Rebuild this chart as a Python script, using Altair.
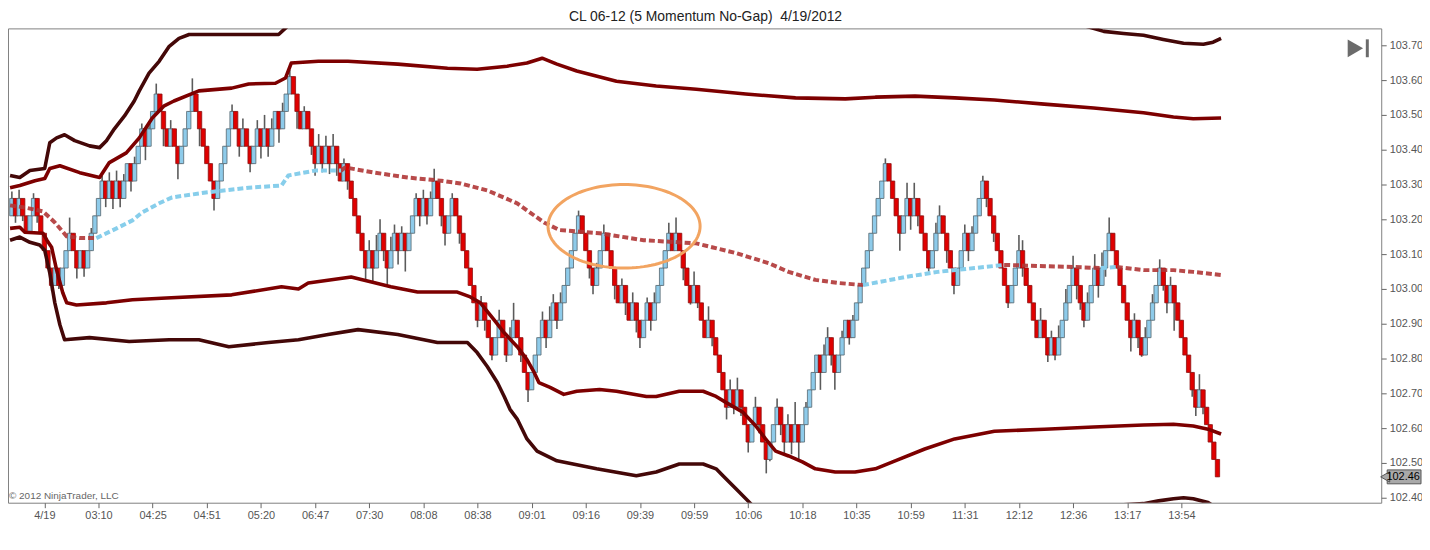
import altair as alt
import pandas as pd
import numpy as np

# ---------------- data ----------------
BASE_PRICE = 102.46   # momentum-bar grid origin (last close)
BAR_SIZE = 0.05       # 5-tick momentum bar
FIRST_OPEN_LVL = 15

# closes, in bar-size levels above BASE_PRICE, one per bar (left to right)
close_a = [16,15,16,15,14,15,16,15,14,13,12,11,12,11,12,13,14,13,12,13,12,13,14,15,16,17,16,17,16,17,16,17,18,17,18,19,20,19,20,21,22]
close_b = [21,20,19,20,19,18,19,20,21,22,21,20,19,18,17,16,17,18,19,20,21,20,19,20,19,18,19,20,19,20,19,20,21,20,21,22,23,22,21,20,21,20,19]
close_c = [18,19,18,19,18,19,18,17,18,17,16,15,14,13,12,13,12,13,14,13,12,13,14,13,14,13,14,15,16,15,16,15,16,17,16,15,14,15,16,15,14,13,12,11,10]
close_d = [9,10,9,8,7,8,9,8,7,8,9,8,7,6,5,6,7,8,9,8,9,10,9,10,11,12,13,14,15,14,13,12,11,12,13,14]
close_e = [13,12,11,10,11,10,9,10,9,8,9,10,9,10,11,12,13,14,13,14,13,12,11,10,11,10,9,8,9,8,7,6,5,4,5,4,5,4,3,2,3,4,3,2,1,2,3,4,3,2,3,2,3,2,3,4,5,6,7]
close_f = [6,7,8,7,6,7,8,9,8,9,10,11,12,13,14,15,16,17,18,17,16,15,14,15,16,15,16,15,14,13,12,13,14,15,14,13,12,11,12,13,14,13,14,15,16,17]
close_g = [16,15,14,13,12,11,10,11,12,13,12,11,10,9,8,9,8,7,8,7,8,9,10,11,12,11,10,9,10,11,12,11,12,13,14,13,12,11,10,9,8,9,8,7]
close_h = [8,9,10,11,12,11,10,11,10,9,8,7,6,5,4,5,4,3,2,1,0]
close_lvl = close_a + close_b + close_c + close_d + close_e + close_f + close_g + close_h

# visible wick extremes (bar index, level)
hi_idx = [0,2,6,16,22,25,27,29,31,34,36,38,40,44,50,61,64,68,70,72,75,77,81,85,87,89,92,99,101,102,105,106,108,
          112,114,116,117,122,130,135,138,139,147,149,150,152,157,162,164,169,172,176,178,182,184,189,193,199,201,206,
          212,215,217,220,225,226,230,233,242,248,250,256,257,264,266,269,279,280,285,288,290,292,294,298,300,302,304,
          311,314,316,318,321,329]
hi_lvl = [16.4,16.5,16.3,14.9,14.3,17.3,17.5,17.6,17.4,18.4,20.3,20.4,22.6,20.5,22.9,21.4,20.6,20.5,20.8,20.6,21.5,23.4,21.3,19.7,19.6,19.7,18.3,13.6,13.9,14.8,13.8,14.5,14.4,
          16.3,16.5,16.4,17.7,16.3,10.4,9.6,8.6,10.0,9.5,9.8,10.5,10.6,15.3,12.3,14.5,11.4,10.6,10.3,10.6,14.6,14.9,11.8,9.8,5.6,5.7,4.6,
          4.5,3.6,4.3,4.3,7.6,8.6,8.4,9.3,18.3,16.9,16.9,14.6,15.6,14.5,14.4,17.3,13.9,13.6,9.7,8.4,8.7,10.8,12.7,10.6,12.8,12.9,14.9,
          9.4,8.6,10.5,12.5,11.5,5.9]
lo_idx = [1,3,7,11,13,18,20,26,28,30,33,37,42,46,52,56,63,66,69,71,74,79,83,84,86,88,90,93,98,100,103,104,107,109,
          113,115,119,120,124,129,131,133,137,141,143,148,151,160,161,167,170,173,174,177,186,188,190,194,198,200,202,
          204,207,209,210,213,214,216,218,224,227,228,232,246,249,251,254,259,261,265,270,272,276,280,287,289,291,295,
          296,297,301,303,310,312,313,319,320,322,327,328,330]
lo_lvl = [14.6,14.7,14.6,10.7,10.8,11.4,11.5,15.5,15.4,15.5,16.4,18.2,19.0,17.1,19.0,15.3,18.4,17.5,18.3,18.4,19.2,20.0,18.5,17.3,17.5,17.4,17.3,16.5,11.3,11.2,12.4,11.0,12.2,11.8,
          14.4,14.5,14.4,13.3,13.4,8.6,8.4,6.7,6.6,6.6,4.3,7.4,8.5,11.4,10.5,10.2,9.3,8.3,7.4,8.4,11.3,9.9,9.7,7.5,3.3,3.6,3.5,
          1.4,2.5,0.2,0.9,2.4,1.2,1.3,1.0,5.0,6.4,5.0,7.6,13.0,14.2,14.4,11.8,12.3,10.5,12.4,15.5,13.5,9.7,11.5,6.6,6.7,8.4,10.2,
          9.6,8.6,10.3,11.5,7.2,7.4,6.9,10.7,9.4,8.4,4.6,3.5,3.6]

tick_labels = ["4/19","03:10","04:25","04:51","05:20","06:47","07:30","08:08","08:38","09:01","09:16",
               "09:39","09:59","10:06","10:18","10:35","10:59","11:31","12:12","12:36","13:17","13:54"]
tick_bars = [9,24,39,54,69,84,99,114,129,144,159,174,189,204,219,234,249,264,279,294,309,324]
price_ticks = [102.40,102.50,102.60,102.70,102.80,102.90,103.00,103.10,103.20,103.30,103.40,103.50,103.60,103.70]

# bands (bar index, price)
u3a_i = [-0.5,2.2,5.0,9.1,10.5,12.4,14.6,17.4,21.5,24.3,26.2,28.4,31.2,33.9,35.3,38.0,40.8,43.6,46.3,49.1,54.6,65.6,73.9,76.6]
u3a_p = [103.326,103.320,103.340,103.346,103.420,103.434,103.443,103.426,103.411,103.406,103.426,103.460,103.497,103.540,103.569,103.620,103.654,103.697,103.720,103.731,103.731,103.731,103.731,103.757]
u3b_i = [296.9,302.5,308.0,313.5,319.0,324.6,330.1,332.8,335.0]
u3b_p = [103.757,103.740,103.734,103.729,103.717,103.706,103.703,103.709,103.720]
u2_i = [-0.5,2.2,6.4,9.1,10.5,13.3,18.8,24.3,27.0,31.7,35.3,38.9,42.2,44.9,51.8,60.9,65.6,73.0,75.8,77.4,84.9,93.1,106.9,120.7,128.9,137.2,142.7,146.9,151.0,156.5,167.5,178.5,189.6,203.3,217.1,230.9,239.2,250.2,261.2,272.2,286.0,299.7,313.5,321.8,327.3,335.0]
u2_p = [103.291,103.297,103.311,103.317,103.346,103.354,103.334,103.320,103.363,103.391,103.434,103.491,103.526,103.540,103.569,103.577,103.589,103.591,103.606,103.649,103.654,103.654,103.646,103.634,103.631,103.640,103.649,103.663,103.646,103.626,103.597,103.583,103.574,103.560,103.549,103.546,103.551,103.554,103.549,103.543,103.531,103.520,103.506,103.494,103.489,103.491]
l2_i = [-0.5,2.2,3.6,8.6,9.7,11.0,12.4,14.1,15.2,17.9,26.2,33.4,42.8,60.9,74.7,79.4,82.1,94.0,105.0,112.4,123.4,127.0,129.8,133.6,136.4,140.0,142.7,144.7,146.0,149.1,152.9,156.5,162.8,167.5,175.8,178.5,184.9,191.5,195.1,197.8,202.5,206.1,208.8,211.6,215.2,219.0,222.6,228.1,233.6,239.2,244.7,252.9,261.2,272.2,286.0,299.7,313.5,321.8,327.3,331.4,335.0]
l2_p = [103.174,103.177,103.163,103.160,103.140,103.120,103.054,102.989,102.960,102.954,102.960,102.969,102.974,102.983,103.006,103.000,103.017,103.034,103.006,102.991,102.991,102.977,102.960,102.911,102.874,102.834,102.797,102.760,102.731,102.717,102.697,102.706,102.711,102.706,102.691,102.691,102.706,102.706,102.691,102.674,102.646,102.606,102.569,102.534,102.520,102.503,102.483,102.474,102.474,102.483,102.506,102.540,102.569,102.591,102.597,102.603,102.609,102.611,102.606,102.597,102.583]
l3a_i = [-0.5,2.2,5.0,7.7,9.1,10.5,11.9,13.3,14.6,21.5,32.5,43.6,51.8,60.1,71.1,79.4,87.6,95.9,106.9,117.9,126.2,128.9,131.7,134.5,136.4,138.0,140.0,142.7,145.5,151.0,162.0,173.0,178.5,184.9,191.5,195.1,197.0,200.6,204.7,206.1]
l3a_p = [103.140,103.149,103.134,103.126,103.111,103.046,102.960,102.897,102.854,102.860,102.849,102.854,102.854,102.834,102.846,102.854,102.869,102.883,102.869,102.846,102.846,102.817,102.777,102.731,102.691,102.654,102.626,102.569,102.534,102.506,102.483,102.463,102.474,102.497,102.497,102.483,102.463,102.426,102.383,102.354]
l3b_i = [308.0,313.5,317.7,321.8,324.6,327.3,331.4,332.8]
l3b_p = [102.380,102.383,102.391,102.397,102.400,102.397,102.386,102.377]

# moving average, coloured by slope (kind, bar index, price)
ma_segments = [
    ("down", [-0.5,3.6,8.6,11.9,15.2,18.8,23.4], [103.240,103.234,103.223,103.191,103.151,103.146,103.146]),
    ("up", [23.4,29.0,33.4,36.1,40.8,44.4,53.7,65.6,74.7,76.6,84.0,91.2], [103.146,103.174,103.197,103.220,103.246,103.263,103.277,103.291,103.297,103.326,103.340,103.340]),
    ("down", [91.2,92.3,100.6,109.7,118.8,124.3,131.7,140.0,147.4,151.8,162.8,175.0,189.6,200.6,209.7,215.2,222.6,229.0,235.8],
             [103.340,103.349,103.334,103.320,103.311,103.303,103.283,103.246,103.191,103.169,103.160,103.140,103.131,103.103,103.074,103.049,103.026,103.017,103.011]),
    ("up", [235.8,247.4,256.5,266.7,274.9], [103.011,103.034,103.049,103.060,103.069]),
    ("down", [274.9,294.2,301.7], [103.069,103.063,103.060]),
    ("up", [301.7,306.1], [103.060,103.063]),
    ("down", [306.1,313.5,321.8,327.3,335.0], [103.063,103.054,103.054,103.049,103.040]),
]

# highlight ellipse (centre bar index, centre price, half-width in bars, half-height in price)
ell_c_i, ell_c_p, ell_a, ell_b = 169.6, 103.18, 21.07, 0.12
last_price = 102.46

# ---------------- build tables ----------------
hi_map = dict(zip(hi_idx, hi_lvl))
lo_map = dict(zip(lo_idx, lo_lvl))
opens = [FIRST_OPEN_LVL] + close_lvl[:-1]
rows = []
for i, (o, c) in enumerate(zip(opens, close_lvl)):
    top, bot = max(o, c), min(o, c)
    h = max(top, hi_map.get(i, top))
    l = min(bot, lo_map.get(i, bot))
    rows.append(dict(i=i, x1=i - 0.6, x2=i + 0.6,
                     o=BASE_PRICE + BAR_SIZE * o, c=BASE_PRICE + BAR_SIZE * c,
                     hi=BASE_PRICE + BAR_SIZE * h, lo=BASE_PRICE + BAR_SIZE * l,
                     dir="up" if c > o else "down"))
bars = pd.DataFrame(rows)

def seg_df(parts):
    out = []
    for s, (xs_, ps_) in enumerate(parts):
        for k, (a, b) in enumerate(zip(xs_, ps_)):
            out.append(dict(seg=s, k=k, i=a, p=b))
    return pd.DataFrame(out)

u3 = seg_df([(u3a_i, u3a_p), (u3b_i, u3b_p)])
u2 = seg_df([(u2_i, u2_p)])
l2 = seg_df([(l2_i, l2_p)])
l3 = seg_df([(l3a_i, l3a_p), (l3b_i, l3b_p)])
ma_up = seg_df([(a, b) for kind, a, b in ma_segments if kind == "up"])
ma_dn = seg_df([(a, b) for kind, a, b in ma_segments if kind == "down"])

t = np.linspace(0, 2 * np.pi, 121)
ell = pd.DataFrame(dict(k=np.arange(len(t)), i=ell_c_i + ell_a * np.cos(t), p=ell_c_p + ell_b * np.sin(t)))

# ---------------- chart ----------------
W, H = 1381, 477
FONT = "Liberation Sans"
xs = alt.Scale(domain=[-1.074, 379.37], nice=False, zero=False)
ys = alt.Scale(domain=[102.3857, 103.7486], nice=False, zero=False)
label_js = "[" + ",".join("'%s'" % s for s in tick_labels) + "]"
x_axis = alt.Axis(values=tick_bars, labelExpr=label_js + "[round((datum.value - 9) / 15)]",
                  title=None, grid=False, domain=False, tickColor="#666", tickSize=5,
                  labelColor="#555", labelFontSize=11, labelFont=FONT, labelPadding=2)
y_axis = alt.Axis(orient="right", values=price_ticks, format=".2f", title=None, grid=False,
                  domain=False, tickColor="#666", tickSize=5, labelColor="#555",
                  labelFontSize=11, labelFont=FONT, labelPadding=3)

def X(f):
    return alt.X(f, scale=xs, axis=x_axis, title=None)

def Y(f):
    return alt.Y(f, scale=ys, axis=y_axis, title=None)

wicks = alt.Chart(bars).mark_rule(color="#5b5b5b", strokeWidth=1.6).encode(
    x=X("i:Q"), y=Y("lo:Q"), y2="hi:Q")
bodies = alt.Chart(bars).mark_rect(strokeWidth=0.8).encode(
    x=X("x1:Q"), x2="x2:Q", y=Y("o:Q"), y2="c:Q",
    color=alt.Color("dir:N", scale=alt.Scale(domain=["up", "down"], range=["#8ecbea", "#e00000"]), legend=None),
    stroke=alt.Stroke("dir:N", scale=alt.Scale(domain=["up", "down"], range=["#55666f", "#8b1010"]), legend=None))

def lines(df, color, width, dash=None, opacity=1.0):
    kw = dict(color=color, strokeWidth=width, clip=True, opacity=opacity, strokeJoin="round")
    if dash:
        kw["strokeDash"] = dash
    return alt.Chart(df).mark_line(**kw).encode(
        x=X("i:Q"), y=Y("p:Q"), detail="seg:N", order="k:Q")

band_u3 = lines(u3, "#440808", 3.6)
band_l3 = lines(l3, "#440808", 3.6)
band_u2 = lines(u2, "#7d0000", 3.6)
band_l2 = lines(l2, "#7d0000", 3.6)
ma_d = lines(ma_dn, "#b03636", 4, dash=[6, 3], opacity=0.9)
ma_u = lines(ma_up, "#87ceeb", 4, dash=[6, 3])

ellipse = alt.Chart(ell).mark_line(color="#f2a461", strokeWidth=3).encode(
    x=X("i:Q"), y=Y("p:Q"), order="k:Q")

one = pd.DataFrame({"p": [last_price], "lo": [last_price - 0.02], "hi": [last_price + 0.02]})
tag_box = alt.Chart(one).mark_rect(fill="#a9a9a9", stroke="#555", strokeWidth=1).encode(
    x=alt.value(W + 6), x2=alt.value(W + 40), y=Y("lo:Q"), y2="hi:Q")
tag_tip = alt.Chart(one).mark_point(shape="triangle-left", filled=True, size=110, color="#a9a9a9",
                                    stroke="#555", strokeWidth=1, opacity=1).encode(
    x=alt.value(W + 4), y=Y("p:Q"))
tag_txt = alt.Chart(one).mark_text(text="102.46", fontSize=11, font=FONT, color="#000").encode(
    x=alt.value(W + 22), y=Y("p:Q"))

icon_tri = alt.Chart(one).mark_point(shape="triangle-right", filled=True, size=320,
                                     color="#6b6b6b", opacity=1).encode(
    x=alt.value(1355), y=alt.value(20))
icon_bar = alt.Chart(one).mark_rule(color="#6b6b6b", strokeWidth=3).encode(
    x=alt.value(1367), y=alt.value(11), y2=alt.value(29))
copyright = alt.Chart(one).mark_text(text="\u00a9 2012 NinjaTrader, LLC", fontSize=10, font=FONT,
                                     color="#666", align="left", baseline="middle").encode(
    x=alt.value(1), y=alt.value(470))

chart = alt.layer(
    wicks, bodies, band_u3, band_u2, band_l2, band_l3, ma_d, ma_u, ellipse,
    tag_box, tag_tip, tag_txt, icon_tri, icon_bar, copyright
).properties(
    width=W, height=H,
    title=alt.TitleParams("CL 06-12 (5 Momentum No-Gap)\u00a0 4/19/2012", fontSize=14, font=FONT,
                          fontWeight="normal", color="#222", anchor="middle", offset=4, dx=11),
    autosize=alt.AutoSizeParams(type="none"),
    padding={"left": 0, "top": 19, "right": 41, "bottom": 38},
    background="white",
).configure_view(stroke="#808080", strokeWidth=1)

chart.save("out.html", embed_options={"renderer": "svg", "actions": False})
